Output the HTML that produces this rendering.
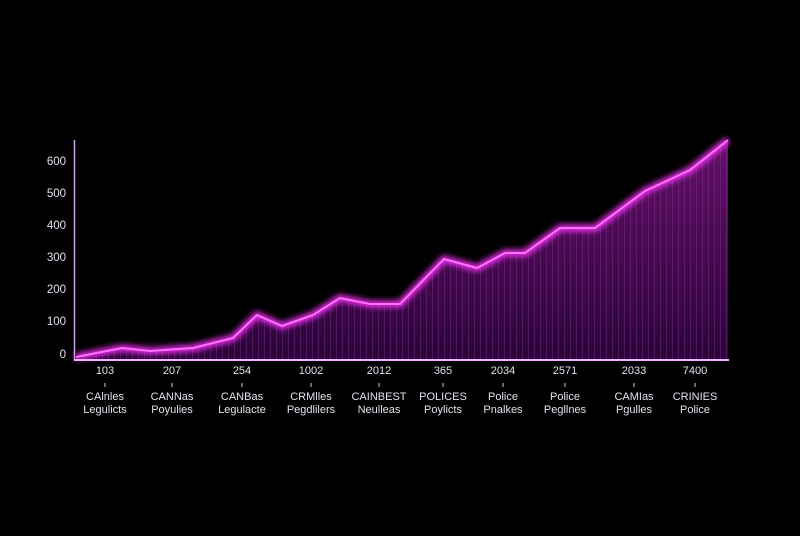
<!DOCTYPE html>
<html><head><style>
html,body{margin:0;padding:0;background:#000;}
svg{display:block}
text{font-family:"Liberation Sans",sans-serif;fill:#e6e0ee;}
</style></head><body>
<svg width="800" height="536" viewBox="0 0 800 536">
<defs>
<linearGradient id="g" x1="0" y1="0" x2="0" y2="1">
<stop offset="0" stop-color="#6a1470" stop-opacity="0.9"/>
<stop offset="1" stop-color="#2a0638" stop-opacity="0.95"/>
</linearGradient>
<pattern id="p" width="6" height="10" patternUnits="userSpaceOnUse">
<rect x="0" y="0" width="1" height="10" fill="#a030b0" opacity="0.35"/>
</pattern>
<filter id="glow" x="-10%" y="-10%" width="120%" height="120%">
<feGaussianBlur stdDeviation="3"/>
</filter>
</defs>
<rect width="800" height="536" fill="#000"/>
<g font-size="11.5">
<text x="66" y="165" text-anchor="end">600</text>
<text x="66" y="197" text-anchor="end">500</text>
<text x="66" y="229" text-anchor="end">400</text>
<text x="66" y="261" text-anchor="end">300</text>
<text x="66" y="293" text-anchor="end">200</text>
<text x="66" y="325" text-anchor="end">100</text>
<text x="66" y="358" text-anchor="end">0</text>
</g>
<line x1="74.5" y1="140" x2="74.5" y2="361" stroke="#c9a8e8" stroke-width="1.5"/>
<polygon points="76,357 122,348 150,351 193,348 233,338 257,315 282,326 313,315 340,298 370,304 400,304 444,259 477,268 505,253 525,253 560,228 595,228 645,191 690,170 728,140 728,360 76,360" fill="url(#g)"/>
<polygon points="76,357 122,348 150,351 193,348 233,338 257,315 282,326 313,315 340,298 370,304 400,304 444,259 477,268 505,253 525,253 560,228 595,228 645,191 690,170 728,140 728,360 76,360" fill="url(#p)"/>
<polyline points="76,357 122,348 150,351 193,348 233,338 257,315 282,326 313,315 340,298 370,304 400,304 444,259 477,268 505,253 525,253 560,228 595,228 645,191 690,170 728,140" fill="none" stroke="#ff30ff" stroke-width="7" filter="url(#glow)" opacity="0.9"/>
<polyline points="76,357 122,348 150,351 193,348 233,338 257,315 282,326 313,315 340,298 370,304 400,304 444,259 477,268 505,253 525,253 560,228 595,228 645,191 690,170 728,140" fill="none" stroke="#ff70ff" stroke-width="2"/>
<line x1="74" y1="360" x2="729" y2="360" stroke="#ff60ff" stroke-width="5" filter="url(#glow)"/>
<line x1="74" y1="360" x2="729" y2="360" stroke="#f0b0ff" stroke-width="2"/>
<g font-size="11" text-anchor="middle">
<text x="105" y="374">103</text><text x="172" y="374">207</text><text x="242" y="374">254</text><text x="311" y="374">1002</text><text x="379" y="374">2012</text>
<text x="443" y="374">365</text><text x="503" y="374">2034</text><text x="565" y="374">2571</text><text x="634" y="374">2033</text><text x="695" y="374">7400</text>
<text x="105" y="400">CAlnles</text><text x="172" y="400">CANNas</text><text x="242" y="400">CANBas</text><text x="311" y="400">CRMlles</text><text x="379" y="400">CAINBEST</text>
<text x="443" y="400">POLICES</text><text x="503" y="400">Police</text><text x="565" y="400">Police</text><text x="634" y="400">CAMIas</text><text x="695" y="400">CRINIES</text>
<text x="105" y="413">Legulicts</text><text x="172" y="413">Poyulies</text><text x="242" y="413">Legulacte</text><text x="311" y="413">Pegdlilers</text><text x="379" y="413">Neulleas</text>
<text x="443" y="413">Poylicts</text><text x="503" y="413">Pnalkes</text><text x="565" y="413">Pegllnes</text><text x="634" y="413">Pgulles</text><text x="695" y="413">Police</text>
</g>
<g stroke="#ccc" stroke-width="1">
<line x1="105" y1="383" x2="105" y2="387"/><line x1="172" y1="383" x2="172" y2="387"/><line x1="242" y1="383" x2="242" y2="387"/><line x1="311" y1="383" x2="311" y2="387"/><line x1="379" y1="383" x2="379" y2="387"/>
<line x1="443" y1="383" x2="443" y2="387"/><line x1="503" y1="383" x2="503" y2="387"/><line x1="565" y1="383" x2="565" y2="387"/><line x1="634" y1="383" x2="634" y2="387"/><line x1="695" y1="383" x2="695" y2="387"/>
</g>
</svg>
</body></html>
